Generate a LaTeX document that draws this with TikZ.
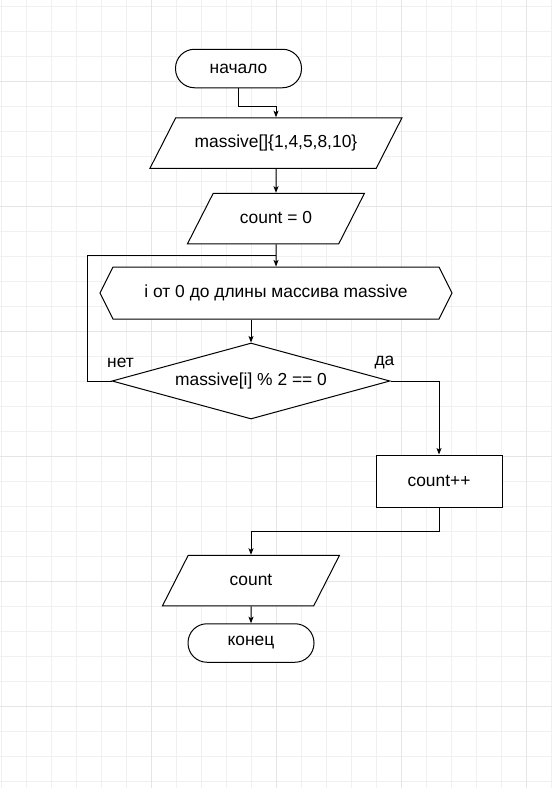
\documentclass[tikz,border=0pt]{standalone}
\usepackage{fontspec}
\setmainfont{Liberation Sans}
\usetikzlibrary{shapes.geometric,shapes.symbols,arrows.meta}

\begin{document}
\begin{tikzpicture}[
              x=1pt,y=-1pt,
              line width=1pt,
              every node/.style={font=\fontsize{17.4}{20}\selectfont},
              gridline/.style={line width=1pt,draw=gray!12},
              gridmajor/.style={line width=1pt,draw=gray!20},
              term/.style={
                  draw,
                  fill=white,
                  rectangle,
                  rounded corners=19pt,
                  minimum width=126pt,
                  minimum height=38.5pt,
                  inner sep=0pt,
                },
              io/.style={
                  draw,
                  fill=white,
                  trapezium,
                  trapezium left angle=63,
                  trapezium right angle=117,
                  trapezium stretches body=true,
                  text height=13pt,
                  text depth=4pt,
                  inner xsep=0pt,
                  inner ysep=16.75pt,
                },
              prep/.style={
                  draw,
                  fill=white,
                  signal,
                  signal to=west and east,
                  signal pointer angle=127,
                  minimum width=352pt,
                  minimum height=52pt,
                  inner sep=0pt,
                },
              decision/.style={
                  draw,
                  fill=white,
                  diamond,
                  aspect=3.66,
                  minimum width=278pt,
                  minimum height=76pt,
                  inner sep=0pt,
                },
              proc/.style={
                  draw,
                  fill=white,
                  rectangle,
                  minimum width=126pt,
                  minimum height=52pt,
                  inner sep=0pt,
                },
              arr/.style={-{Stealth[length=6.5pt,width=5pt,inset=1.5pt]}}
            ]
            \useasboundingbox (0,0) rectangle (552,788);
            % grid
            \foreach \k in {0,...,22}
            \draw[gridline] ({1+25*\k},0) -- ({1+25*\k},788);
            \foreach \k in {0,...,31}
            \draw[gridline] (0,{6+25*\k}) -- (552,{6+25*\k});
            \foreach \gx in {151,276,401,526}
            \draw[gridmajor] (\gx,0) -- (\gx,788);
            \foreach \gy in {81,206,331,456,581,706}
            \draw[gridmajor] (0,\gy) -- (552,\gy);
            % blocks
            \node[term] (start) at (238.5,68.5) {начало};
            \node[io,minimum width=252pt] (in1) at (276,143) {massive[]\{1,4,5,8,10\}};
            \node[io,minimum width=177pt] (in2) at (276,218.5) {count = 0};
            \node[prep] (forloop) at (276,293) {i от 0 до длины массива massive};
            \node[decision] (cond) at (251,381) {massive[i] \% 2 == 0};
            \node[proc] (inc) at (439,481) {count++};
            \node[io,minimum width=177pt] (out) at (251,580.5) {count};
            \node[term] (stop) at (251,643) {конец};
            \node (no) at ([shift={(9,-18)}]cond.west) {нет};
            \node (yes) at ([shift={(-6,-18)}]cond.east) {да};
            % connectors
            \draw[arr] (start.south) -- ++(0,18) -| (in1);
            \draw[arr] (in1) -- (in2);
            \draw[arr] (in2) -- coordinate[pos=.5] (join) (forloop);
            \draw[arr] (forloop.south -| cond) -- (cond);
            \draw (cond.west) -- ++(-24,0) |- (join);
            \draw[arr] (cond.east) -| (inc);
            \draw[arr] (inc.south) -- ++(0,24) -| (out);
            \draw[arr] (out) -- (stop);
          \end{tikzpicture}
\end{document}
